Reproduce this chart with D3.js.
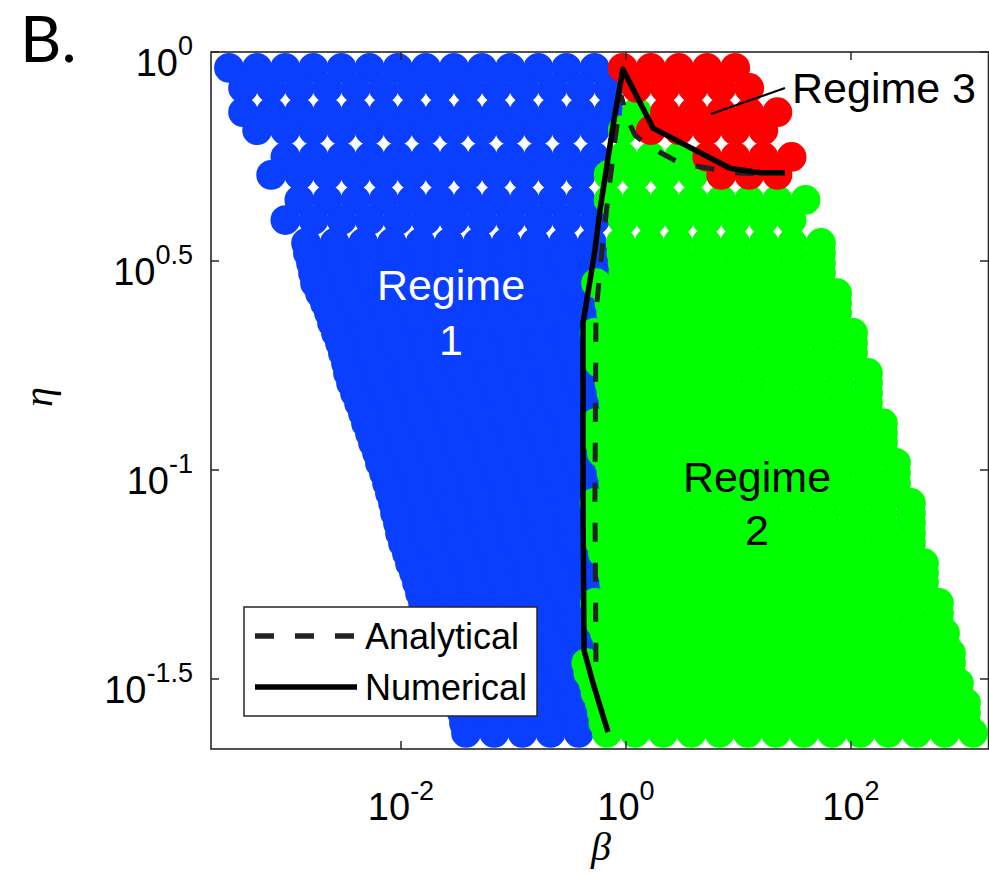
<!DOCTYPE html>
<html>
<head>
<meta charset="utf-8">
<script src="https://cdn.jsdelivr.net/npm/d3@7"></script>
<style>
  body { margin: 0; background: #fff; }
  svg { display: block; }
</style>
</head>
<body>
<div id="chart"></div>
<script>
// each row of runs: log10(eta) and the log10(beta) span swept in that row
const etaExp = [-0.038, -0.086, -0.144, -0.187, -0.251, -0.294, -0.354, -0.402,
    -0.457, -0.481, -0.505, -0.529, -0.553, -0.577, -0.601, -0.624, -0.648, -0.672,
    -0.696, -0.720, -0.744, -0.768, -0.792, -0.816, -0.840, -0.864, -0.888, -0.912,
    -0.935, -0.959, -0.983, -1.007, -1.031, -1.055, -1.079, -1.103, -1.127, -1.151,
    -1.175, -1.199, -1.223, -1.246, -1.270, -1.294, -1.318, -1.342, -1.366, -1.390,
    -1.414, -1.438, -1.462, -1.486, -1.510, -1.534, -1.557, -1.581, -1.605, -1.629];
const betaMinExp = [-3.529, -3.404, -3.404, -3.279, -3.028, -3.154, -2.904, -3.028,
    -2.844, -2.827, -2.800, -2.782, -2.764, -2.720, -2.676, -2.640, -2.613, -2.578,
    -2.542, -2.516, -2.489, -2.471, -2.444, -2.409, -2.373, -2.338, -2.311, -2.276,
    -2.249, -2.213, -2.187, -2.151, -2.124, -2.098, -2.071, -2.053, -2.027, -2.009,
    -1.982, -1.947, -1.920, -1.884, -1.858, -1.831, -1.804, -1.769, -1.733, -1.698,
    -1.662, -1.636, -1.600, -1.573, -1.538, -1.511, -1.484, -1.458, -1.440, -1.422];
const betaMaxExp = [0.971, 1.096, 1.346, 1.221, 1.472, 1.346, 1.596, 1.472,
    1.733, 1.733, 1.733, 1.733, 1.733, 1.876, 1.876, 1.876, 1.876, 2.018,
    2.018, 2.018, 2.018, 2.151, 2.151, 2.151, 2.151, 2.151, 2.284, 2.284,
    2.284, 2.284, 2.400, 2.400, 2.400, 2.400, 2.533, 2.533, 2.533, 2.533,
    2.533, 2.533, 2.649, 2.649, 2.649, 2.649, 2.782, 2.782, 2.782, 2.836,
    2.836, 2.889, 2.889, 2.889, 2.960, 2.960, 3.022, 3.022, 3.022, 3.084];
// log10(beta) where regime 2 starts in each row
const regime2From = [-0.1, -0.1, -0.1, -0.2, -0.2, -0.2, -0.2, -0.22,
    -0.22, -0.24, -0.25, -0.26, -0.27, -0.28, -0.3, -0.3, -0.3, -0.3,
    -0.3, -0.3, -0.3, -0.3, -0.3, -0.3, -0.3, -0.3, -0.3, -0.3,
    -0.3, -0.3, -0.3, -0.3, -0.3, -0.3, -0.3, -0.3, -0.3, -0.3,
    -0.3, -0.3, -0.3, -0.3, -0.3, -0.3, -0.3, -0.3, -0.3, -0.37,
    -0.37, -0.37, -0.37, -0.37, -0.37, -0.33, -0.33, -0.33, -0.33, -0.3];
// log10(beta) where regime 3 starts (only the top rows reach it)
const regime3From = [-0.1, -0.1, 0.2, 0.2, 0.6, 0.6];
const betaStep = 0.25;

// boundary curves (log10 beta, log10 eta)
const numericalBeta = [-0.160, -0.293, -0.373, -0.382, -0.382, -0.338, -0.276, -0.231, -0.107, -0.027, 0.240, 0.924, 1.191, 1.413];
const numericalEta = [-1.627, -1.510, -1.431, -1.072, -0.648, -0.577, -0.474, -0.378, -0.163, -0.041, -0.182, -0.278, -0.289, -0.289];
const analyticalBeta = [-0.267, -0.276, -0.267, -0.213, -0.160, -0.098, -0.044, 0.009, 0.080, 0.213, 0.480, 0.969, 1.191];
const analyticalEta = [-1.459, -1.072, -0.624, -0.474, -0.347, -0.211, -0.103, -0.158, -0.199, -0.227, -0.266, -0.289, -0.292];

const xTickExp = [-2, 0, 2];
const xTickLabels = ["-2", "0", "2"];
const yTickExp = [0, -0.5, -1, -1.5];
const yTickLabels = ["0", "0.5", "-1", "-1.5"];

const regimeColors = { 1: "#0b3fff", 2: "#00ff00", 3: "#ff0000" };

const width = 989;
const height = 877;
const sans = "'Liberation Sans', Arial, Helvetica, sans-serif";
const serif = "'Liberation Serif', 'Times New Roman', serif";

const svg = d3.select("#chart")
    .append("svg")
    .attr("width", width)
    .attr("height", height)
    .style("font-family", sans);

const x = d3.scaleLog()
    .domain([10 ** -3.689, 10 ** 3.227])
    .range([211, 989]);

const y = d3.scaleLog()
    .domain([10 ** -1.6675, 1])
    .range([749, 52]);

// build the run grid
const runs = [];
etaExp.forEach((e, i) => {
    const lo = betaMinExp[i], hi = betaMaxExp[i];
    const n = Math.round((hi - lo) / betaStep);
    const r3 = i < regime3From.length ? regime3From[i] : Infinity;
    for (let k = 0; k <= n; k++) {
        const b = lo + k * (hi - lo) / n;
        let regime = 2;
        if (b >= r3) regime = 3;
        else if (b < regime2From[i]) regime = 1;
        runs.push({ beta: 10 ** b, eta: 10 ** e, regime: regime });
    }
});

const dots = svg.append("g");
[1, 2, 3].forEach(r => {
    dots.selectAll(`circle.r${r}`)
        .data(runs.filter(d => d.regime === r))
        .enter()
        .append("circle")
        .attr("class", `r${r}`)
        .attr("cx", d => x(d.beta))
        .attr("cy", d => y(d.eta))
        .attr("r", 13.9)
        .attr("fill", regimeColors[r])
        .attr("stroke", regimeColors[r])
        .attr("stroke-width", 2);
});

const line = d3.line()
    .x(d => x(10 ** d[0]))
    .y(d => y(10 ** d[1]));

svg.append("path")
    .attr("d", line(d3.zip(analyticalBeta, analyticalEta)))
    .attr("fill", "none")
    .attr("stroke", "#222")
    .attr("stroke-width", 5)
    .attr("stroke-dasharray", "19 21");

svg.append("path")
    .attr("d", line(d3.zip(numericalBeta, numericalEta)))
    .attr("fill", "none")
    .attr("stroke", "#000")
    .attr("stroke-width", 5.5)
    .attr("stroke-linejoin", "round");

// axes box with inward ticks
const axisColor = "#262626";
const axes = svg.append("g");
axes.append("rect")
    .attr("x", 211).attr("y", 52)
    .attr("width", 777.5).attr("height", 697)
    .attr("fill", "none")
    .attr("stroke", axisColor)
    .attr("stroke-width", 1.6);

xTickExp.forEach(t => {
    const px = x(10 ** t);
    axes.append("line").attr("x1", px).attr("x2", px).attr("y1", 749).attr("y2", 741)
        .attr("stroke", axisColor).attr("stroke-width", 1.5);
    axes.append("line").attr("x1", px).attr("x2", px).attr("y1", 52).attr("y2", 60)
        .attr("stroke", axisColor).attr("stroke-width", 1.5);
});
yTickExp.forEach(t => {
    const py = y(10 ** t);
    axes.append("line").attr("x1", 211).attr("x2", 219).attr("y1", py).attr("y2", py)
        .attr("stroke", axisColor).attr("stroke-width", 1.5);
    axes.append("line").attr("x1", 988).attr("x2", 980).attr("y1", py).attr("y2", py)
        .attr("stroke", axisColor).attr("stroke-width", 1.5);
});

const xLab = svg.append("g").selectAll("text")
    .data(d3.zip(xTickExp, xTickLabels))
    .enter()
    .append("text")
    .attr("x", d => x(10 ** d[0]))
    .attr("y", 820)
    .attr("text-anchor", "middle")
    .style("font-size", "38px")
    .attr("fill", "#000");
xLab.append("tspan").text("10");
xLab.append("tspan").attr("dy", -20).style("font-size", "27px").text(d => d[1]);

const yLab = svg.append("g").selectAll("text")
    .data(d3.zip(yTickExp, yTickLabels))
    .enter()
    .append("text")
    .attr("x", 193)
    .attr("y", d => y(10 ** d[0]) + 24)
    .attr("text-anchor", "end")
    .style("font-size", "38px")
    .attr("fill", "#000");
yLab.append("tspan").text("10");
yLab.append("tspan").attr("dy", -21).style("font-size", "27px").text(d => d[1]);

// axis titles
svg.append("text")
    .attr("x", 601).attr("y", 860)
    .attr("text-anchor", "middle")
    .style("font-family", serif)
    .style("font-style", "italic")
    .style("font-size", "40px")
    .text("β");

svg.append("text")
    .attr("transform", "translate(52, 397) rotate(-90)")
    .attr("text-anchor", "middle")
    .style("font-family", serif)
    .style("font-style", "italic")
    .style("font-size", "40px")
    .text("η");

svg.append("text")
    .attr("x", 20).attr("y", 62)
    .style("font-family", "Lato, 'Open Sans', sans-serif")
    .style("font-size", "64px")
    .text("B.");

// regime labels
const reg1 = svg.append("text")
    .attr("text-anchor", "middle")
    .attr("fill", "#fff")
    .style("font-size", "43px");
reg1.append("tspan").attr("x", 451).attr("y", 300).text("Regime");
reg1.append("tspan").attr("x", 451).attr("y", 355).text("1");

const reg2 = svg.append("text")
    .attr("text-anchor", "middle")
    .attr("fill", "#000")
    .style("font-size", "43px");
reg2.append("tspan").attr("x", 757).attr("y", 492).text("Regime");
reg2.append("tspan").attr("x", 757).attr("y", 545).text("2");

svg.append("line")
    .attr("x1", 711).attr("y1", 114)
    .attr("x2", 785).attr("y2", 88)
    .attr("stroke", "#000")
    .attr("stroke-width", 2);
svg.append("text")
    .attr("x", 792).attr("y", 103)
    .style("font-size", "43px")
    .text("Regime 3");

// legend
const legend = svg.append("g").attr("transform", "translate(244, 607)");
legend.append("rect")
    .attr("width", 293).attr("height", 109)
    .attr("fill", "#fff")
    .attr("stroke", axisColor)
    .attr("stroke-width", 1.5);

const legendItems = [
    { name: "Analytical", dash: "19 21", color: "#222" },
    { name: "Numerical", dash: null, color: "#000" }
];
const li = legend.selectAll("g.item")
    .data(legendItems)
    .enter()
    .append("g")
    .attr("class", "item")
    .attr("transform", (d, i) => `translate(0, ${29 + i * 51})`);
li.append("line")
    .attr("x1", 11).attr("x2", 113)
    .attr("stroke", d => d.color)
    .attr("stroke-width", 5.5)
    .attr("stroke-dasharray", d => d.dash);
li.append("text")
    .attr("x", 121).attr("y", 13)
    .style("font-size", "36px")
    .text(d => d.name);
</script>
</body>
</html>
